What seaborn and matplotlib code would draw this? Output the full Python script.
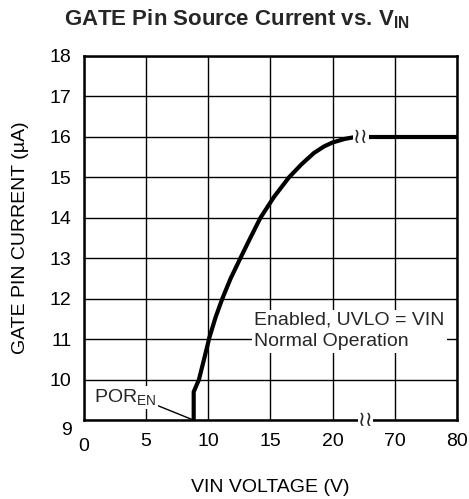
import numpy as np
import matplotlib
matplotlib.use("Agg")
import matplotlib.pyplot as plt
import matplotlib.transforms as mtransforms
import seaborn as sns

# curve (V, uA)
vin_rise = [8.83, 8.83, 9.25, 9.7, 10.1, 10.6, 11.13, 11.8, 12.52, 13.3,
            14.2, 15.3, 16.5, 17.5, 18.5, 19.3, 20.0, 21.0, 21.9]
igate_rise = [9.0, 9.7, 10.0, 10.55, 11.05, 11.55, 12.0, 12.5, 12.96, 13.45,
              14.0, 14.52, 15.0, 15.32, 15.6, 15.76, 15.86, 15.95, 16.0]
vin_flat = [65.6, 80.0]
igate_flat = [16.0, 16.0]

x_ticks = [0, 5, 10, 15, 20, 70, 80]
y_ticks = [9, 10, 11, 12, 13, 14, 15, 16, 17, 18]

BREAK_LO, BREAK_HI = 22.5, 65.0


def fwd(v):
    v = np.asarray(v, dtype=float)
    return np.where(v <= BREAK_LO, v / 5.0,
                    np.where(v >= BREAK_HI, 4.5 + (v - BREAK_HI) / 10.0, 4.5))


def inv(p):
    p = np.asarray(p, dtype=float)
    return np.where(p <= 4.5, p * 5.0, BREAK_HI + (p - 4.5) * 10.0)


sns.set_theme(style="white")
plt.rcParams["font.family"] = ["Liberation Sans", "DejaVu Sans"]
plt.rcParams["mathtext.fontset"] = "custom"
plt.rcParams["mathtext.rm"] = "Liberation Sans"
plt.rcParams["mathtext.bf"] = "Liberation Sans:bold"

fig = plt.figure(figsize=(4.69, 4.99), dpi=100)
ax = fig.add_axes([0.179, 0.158, 0.795, 0.730])
ax.set_xscale("function", functions=(fwd, inv))

sns.lineplot(x=vin_rise, y=igate_rise, ax=ax, color="black", lw=3.0,
             estimator=None, sort=False, zorder=4)
sns.lineplot(x=vin_flat, y=igate_flat, ax=ax, color="black", lw=3.0,
             estimator=None, sort=False, zorder=4)

ax.set_xlim(0, 80)
ax.set_ylim(9, 18)
ax.set_xticks(x_ticks)
ax.set_xticklabels([str(t) for t in x_ticks])
ax.set_yticks(y_ticks)
ax.grid(True, color="black", lw=1.0)
ax.set_axisbelow(True)
for s in ax.spines.values():
    s.set_color("black")
    s.set_linewidth(1.8)
ax.tick_params(axis="both", labelsize=14, length=0, colors="black")
ax.tick_params(axis="x", pad=9)
ax.tick_params(axis="y", pad=9)

# nudge the corner labels down a bit, like the original
dy = mtransforms.ScaledTranslation(0, -6 / 72, fig.dpi_scale_trans)
ax.get_yticklabels()[0].set_transform(ax.get_yticklabels()[0].get_transform() + dy)
dx = mtransforms.ScaledTranslation(0, -4 / 72, fig.dpi_scale_trans)
ax.get_xticklabels()[0].set_transform(ax.get_xticklabels()[0].get_transform() + dx)

ax.set_xlabel("VIN VOLTAGE (V)", fontsize=14, labelpad=17, color="black")
ax.set_ylabel("GATE PIN CURRENT (\u00b5A)", fontsize=14, labelpad=15, color="black")

fig.text(0.505, 0.962, r"GATE Pin Source Current vs. V$_\mathbf{IN}$",
         ha="center", va="center", fontsize=16, fontweight="bold")

ax.text(13.7, 11.2, "Enabled, UVLO = VIN\nNormal Operation", fontsize=14,
        ha="left", va="center", linespacing=1.35, zorder=3,
        bbox=dict(facecolor="white", edgecolor="none", pad=1.5))

ax.annotate("POR$_\\mathregular{EN}$", xy=(8.83, 9.0), xytext=(0.8, 9.55),
            fontsize=14, ha="left", va="center", zorder=3,
            bbox=dict(facecolor="white", edgecolor="none", pad=1.0),
            arrowprops=dict(arrowstyle="-", color="black", lw=1.0,
                            relpos=(1.0, 0.15), shrinkA=0, shrinkB=0))

# axis break marks
for bx, by in [(22.3, 16.0), (65.3, 9.0)]:
    ax.text(bx, by, "\u2240\u2240", family="DejaVu Sans", fontsize=15,
            ha="center", va="center", zorder=6, clip_on=False,
            bbox=dict(facecolor="white", edgecolor="none", pad=0.0))

fig.savefig("out.png", dpi=100)
